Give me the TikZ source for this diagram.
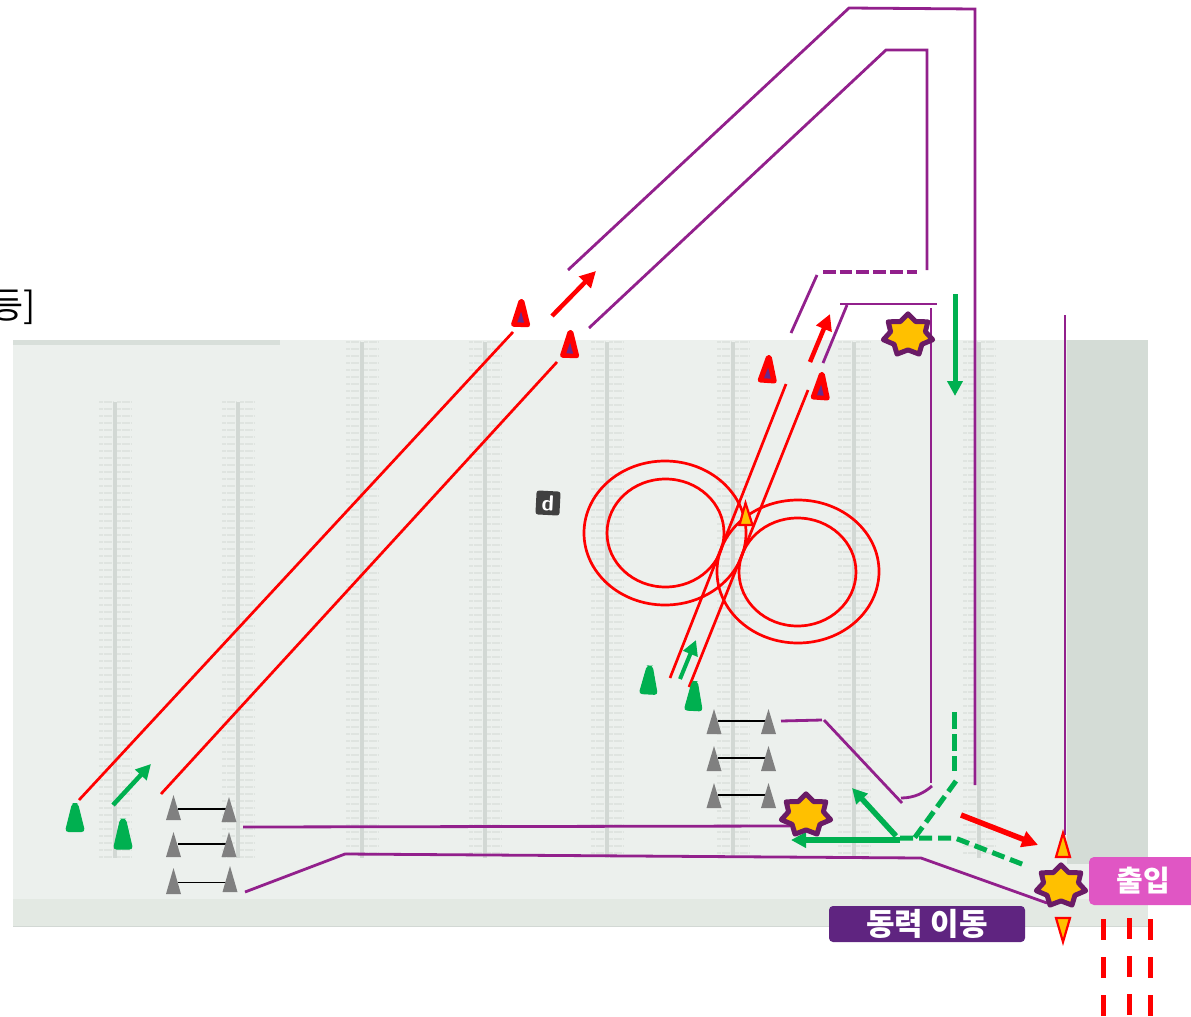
\documentclass[tikz,border=0pt]{standalone}
\usepackage{fontspec}
\usetikzlibrary{arrows.meta,shapes.geometric}
\newfontfamily\krfont{Noto Sans CJK KR}
\definecolor{bgmain}{HTML}{ECF0ED}
\definecolor{bgside}{HTML}{D4DCD6}
\definecolor{bgbottom}{HTML}{E3E9E3}
\definecolor{bgtop}{HTML}{D8DFDA}
\definecolor{tickc}{HTML}{DFE4E0}
\definecolor{colc}{HTML}{D2D8D4}
\definecolor{wall}{HTML}{92208C}
\definecolor{starline}{HTML}{6A1B66}
\definecolor{gold}{HTML}{FFC000}
\definecolor{grn}{HTML}{00B050}
\definecolor{rd}{HTML}{FF0000}
\definecolor{pinkbox}{HTML}{E056C4}
\definecolor{purplebox}{HTML}{5F2480}
\definecolor{innerp}{HTML}{6B2A8C}
\definecolor{conegray}{HTML}{808080}
\tikzset{
  wallline/.style={draw=wall,line width=2.8pt},
  walldash/.style={draw=wall,line width=3.6pt,dash pattern=on 12.7pt off 4pt},
  redline/.style={draw=rd,line width=2.7pt},
  ringline/.style={draw=rd,line width=2.7pt},
  redarrow/.style={draw=rd,line width=#1,-{Triangle[length=16pt,width=16pt]}},
  redarrow/.default=4pt,
  grnarrow/.style={draw=grn,line width=#1,-{Triangle[length=15pt,width=15pt]}},
  grnarrow/.default=4.5pt,
  grndash/.style={draw=grn,line width=5pt,dash pattern=on 13pt off 6pt},
  reddash/.style={draw=rd,line width=5pt},
  greencone/.style={fill=grn,draw=grn,line width=1pt,rounded corners=3pt},
  graycone/.style={fill=conegray},
  warncone/.style={fill=gold,draw=rd,line width=2.2pt,line join=miter},
  linkline/.style={draw=black,line width=1.3pt},
  starmark/.style={star,star points=7,star point ratio=1.42,minimum size=46pt,inner sep=0pt,
    xscale=1.1,yscale=0.92,transform shape,
    fill=gold,draw=starline,line width=5pt,line join=round},
  labelbox/.style={rounded corners=4pt,text=white,inner sep=0pt,anchor=center},
}
% centre x, centre y, half height, half width, rotation, style
\newcommand{\conemark}[6]{\begin{scope}[shift={(#1,#2)},rotate=#5]\path[#6] (-2.5,-#3) -- (2.5,-#3) -- (#4,#3) -- (-#4,#3) -- cycle;\end{scope}}
\newcommand{\graymark}[4]{\path[graycone] (#1,#2) -- (#1+#4,#3) -- (#1-#4,#3) -- cycle;}
\newcommand{\redmark}[3]{\begin{scope}[shift={(#1,#2)},rotate=#3]
 \path[fill=rd,draw=rd,line width=5pt,line join=round] (-0.5,-12) -- (0.5,-12) -- (7,11) -- (-7,11) -- cycle;
 \path[fill=innerp] (0,-2) -- (3.4,9) -- (-3.4,9) -- cycle;\end{scope}}
\begin{document}
\begin{tikzpicture}[x=1pt,y=-1pt]
\useasboundingbox (0,0) rectangle (1191,1017);
% ground
\fill[bgmain] (13,340) rectangle (1148,926);
\fill[bgside] (1067,340) rectangle (1148,864);
\fill[bgbottom] (13,899) rectangle (1148,926);
\fill[bgtop] (13,340) rectangle (280,345);
\draw[colc,line width=1pt] (13,926) -- (1148,926);
% hatched columns
\foreach \cx/\ctop in {115/402,238/402,362/342,485/342,607/342,733/342,854/342,979/342}{
  \foreach \ty in {0,7,...,511}{
    \pgfmathsetmacro{\yy}{\ctop+\ty}
    \pgfmathparse{\yy<858?1:0}
    \ifnum\pgfmathresult=1
      \draw[tickc,line width=1.3pt,dash pattern=on 4pt off 0.6pt] (\cx-16,\yy) -- (\cx-2,\yy) (\cx+2,\yy) -- (\cx+16,\yy);
    \fi
  }
  \draw[colc,line width=3.5pt] (\cx,\ctop) -- (\cx,858);
}
% clipped heading fragment
\node[anchor=base east,inner sep=0pt,font=\krfont\fontsize{36}{36}\selectfont] (headfrag) at (36,318) {등]};
% small tag
\node[rotate=-3,fill=black!75,rounded corners=2.5pt,minimum size=24pt,inner sep=0pt,text=white,font=\sffamily\bfseries\fontsize{22}{22}\selectfont] (tag) at (548,503) {d};
% walls
\draw[wallline] (568,270) -- (849,8) -- (975,9) -- (975,785);
\draw[wallline] (589,328) -- (886,50) -- (927,50) -- (927,270);
\draw[walldash] (823,272) -- (917,272);
\draw[wallline] (791,333) -- (817,275);
\draw[wallline] (823,363) -- (847,305);
\draw[wallline] (840,304) -- (937,304);
\draw[wallline] (931,308) -- (931,783);
\draw[wallline] (932,786) .. controls (924,793) and (914,798) .. (901,798);
\draw[wallline] (781,721) -- (822,720);
\draw[wallline] (824,720) -- (902,803);
\draw[wallline] (243,827) -- (790,826);
\draw[wallline] (245,892) -- (345,854) -- (921,858) -- (1047,903);
\draw[wallline] (1065,315) -- (1065,835);
% red lanes
\draw[redline] (79,800) -- (513,332);
\draw[redline] (161,794) -- (557,362);
\draw[redline] (670,678) -- (786,384);
\draw[redline] (689,687) -- (808,390);
% rings
\draw[ringline] (665,533) ellipse [x radius=81,y radius=72];
\draw[ringline] (665.5,533) ellipse [x radius=58.5,y radius=54];
\draw[ringline] (798,571.5) ellipse [x radius=81,y radius=71.5];
\draw[ringline] (797.5,572) ellipse [x radius=58.5,y radius=54];
% green arrows
\draw[grnarrow=4.5pt] (113,805) -- (151,764);
\draw[grnarrow=4pt] (680,679) -- (696,640);
\draw[grnarrow=5pt] (955,294) -- (955,396);
\draw[grnarrow=5.5pt] (896,836) -- (852,788);
\draw[grnarrow=5.5pt] (900,840) -- (791,840);
\draw[grndash,dash pattern=on 17pt off 5pt] (954,712) -- (954,771);
\draw[grndash] (956,781) -- (913,840);
\draw[grndash] (900,838) -- (955,838) -- (1027,866);
% red arrows
\draw[redarrow=4.5pt] (552,316) -- (596,271);
\draw[redarrow=4.5pt] (810,362) -- (830,314);
\draw[redarrow=5.5pt] (961,815) -- (1038,845);
% green cones
\conemark{75}{817.5}{14}{9.5}{0}{greencone}
\conemark{123}{834}{15}{9.5}{0}{greencone}
\conemark{649}{680}{14}{9}{-3}{greencone}
\conemark{694}{696}{14.5}{9}{-3}{greencone}
% red cones
\redmark{521}{313.5}{-2}
\redmark{570}{344.5}{-2}
\redmark{768}{369.5}{-4}
\redmark{821}{386.5}{-4}
% gray cones with links
\draw[linkline] (178,809) -- (226,809);
\draw[linkline] (178,844) -- (226,844);
\draw[linkline] (178,882.5) -- (226,882.5);
\draw[linkline] (718,721) -- (765,721);
\draw[linkline] (718,758) -- (765,758);
\draw[linkline] (718,795) -- (765,795);
\graymark{173.5}{795}{820}{7.5}
\graymark{229}{797}{822}{7.5}
\graymark{173.5}{832}{857}{7.5}
\graymark{229}{832}{857}{7.5}
\graymark{173.5}{868}{894}{7.5}
\graymark{230}{866}{892}{7.5}
\graymark{714}{709}{734}{7.5}
\graymark{768.5}{709}{734}{7.5}
\graymark{714}{746}{771}{7.5}
\graymark{768.5}{746}{771}{7.5}
\graymark{714}{783}{808}{7.5}
\graymark{768.5}{783}{808}{7.5}
% warning cones
\path[warncone] (745.5,503) -- (752.5,525) -- (739.5,525) -- cycle;
\path[warncone] (1063,833) -- (1070,857) -- (1056,857) -- cycle;
\path[warncone] (1063,942) -- (1070,918) -- (1056,918) -- cycle;
% stars
\node[starmark] (starA) at (806,815) {};
\node[starmark] (starB) at (908,335) {};
\node[starmark] (starC) at (1061,886) {};
% dashed exit marks
\foreach \cx/\dy in {1103/1,1129/0,1150/1}{
  \draw[reddash] (\cx,918+\dy) -- (\cx,939+\dy);
  \draw[reddash] (\cx,956+\dy) -- (\cx,977+\dy);
  \draw[reddash] (\cx,994+\dy) -- (\cx,1015+\dy);
}
% labels
\fill[pinkbox,rounded corners=5pt] (1089,857) rectangle (1200,905);
\node[labelbox,font=\krfont\bfseries\fontsize{29}{29}\selectfont] (entry) at (1143,881) {출입};
\node[labelbox,fill=purplebox,minimum width=196pt,minimum height=36pt,font=\krfont\bfseries\fontsize{31}{31}\selectfont] (move) at (927,924) {동력 이동};
\end{tikzpicture}
\end{document}
